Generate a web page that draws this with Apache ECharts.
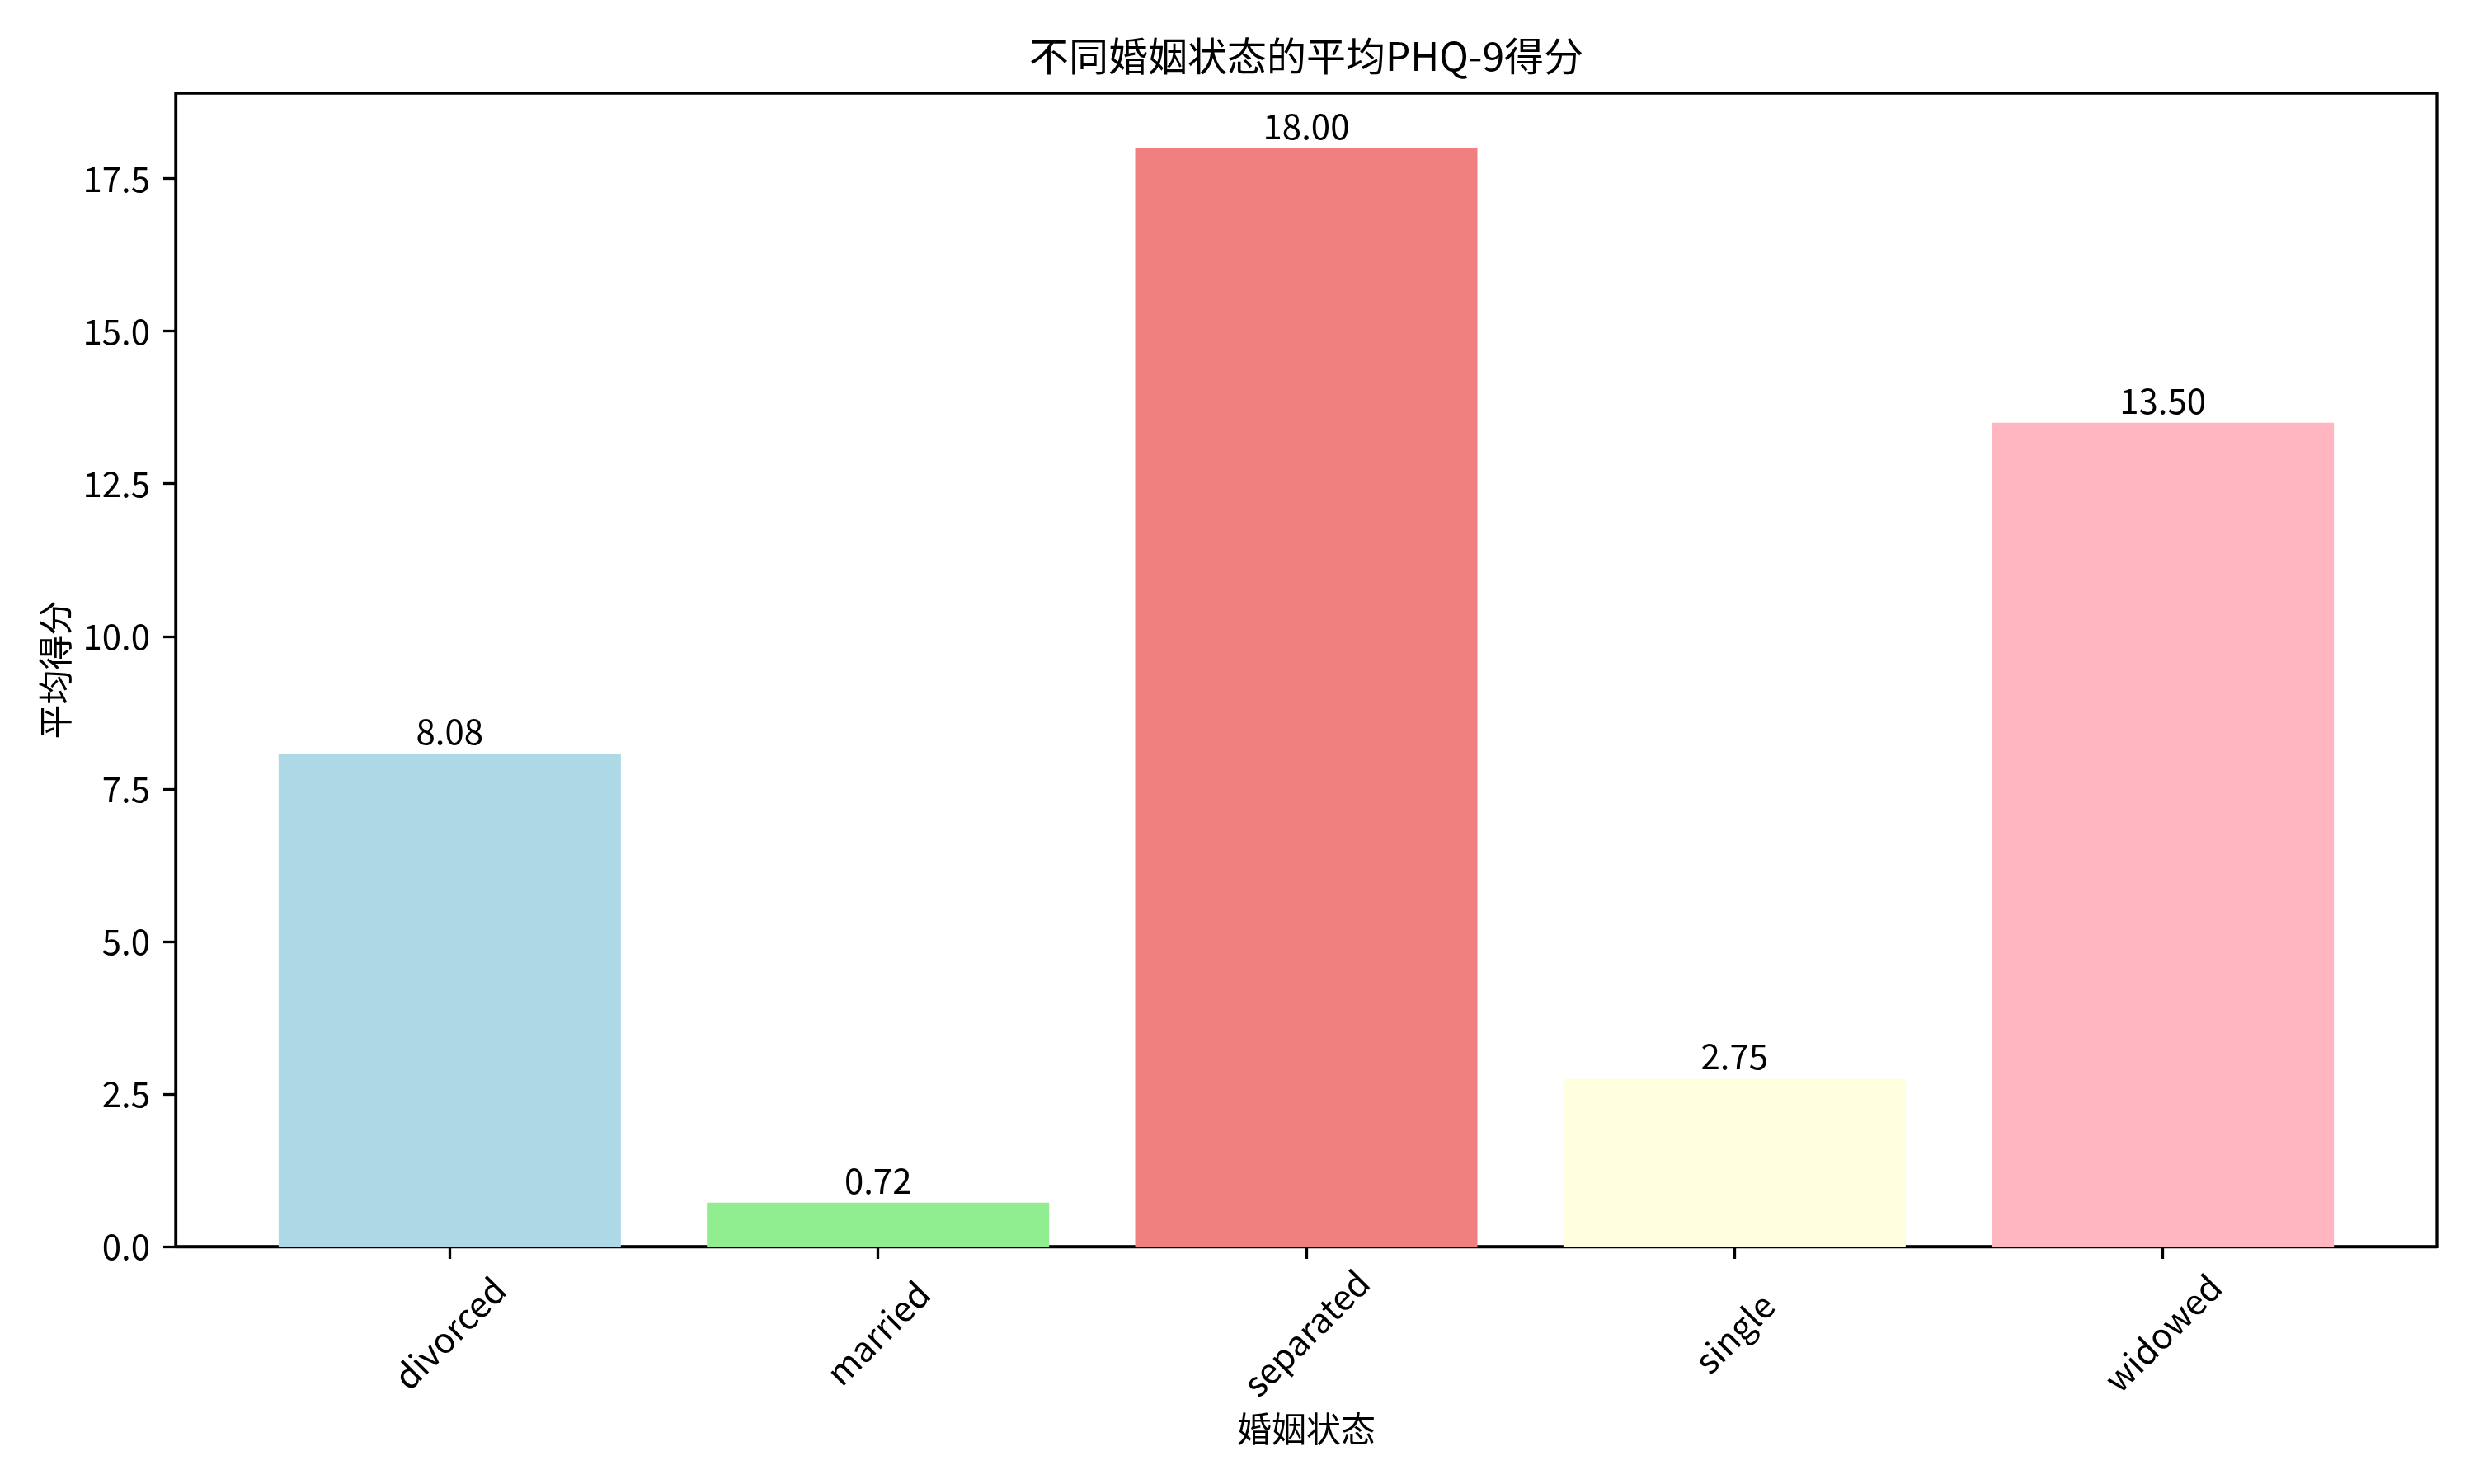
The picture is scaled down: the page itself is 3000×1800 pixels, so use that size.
<!DOCTYPE html>
<html>
<head>
<meta charset="utf-8">
<title>不同婚姻状态的平均PHQ-9得分</title>
<script src="https://cdn.jsdelivr.net/npm/echarts@6/dist/echarts.min.js"></script>
<style>
    html, body { margin: 0; padding: 0; background: #fff; }
    #ChartDIV { width: 3000px; height: 1800px; }
</style>
</head>
<body>
<div id="ChartDIV"></div>
<script>
// data
var categories = ['divorced', 'married', 'separated', 'single', 'widowed'];
var scores = [8.08, 0.72, 18.00, 2.75, 13.50];
var barColors = ['#ADD8E6', '#90EE90', '#F08080', '#FFFFE0', '#FFB6C1'];
var yTicks = [0, 2.5, 5, 7.5, 10, 12.5, 15, 17.5];

var FONT = '"Noto Sans CJK SC", "DejaVu Sans", sans-serif';

function ScoreChart() {
    var myChart = echarts.init(document.getElementById('ChartDIV'), null, { renderer: 'canvas' });

    var catIndex = [];
    for (var i = 0; i < categories.length; i++) {
        catIndex.push(i);
    }

    var option = {
        backgroundColor: '#fff',
        animation: false,
        title: {
            text: '不同婚姻状态的平均PHQ-9得分',
            left: 1584,
            top: 44,
            textAlign: 'center',
            padding: 0,
            textStyle: { fontFamily: FONT, fontSize: 48, fontWeight: 'normal', color: '#000' }
        },
        grid: {
            left: 213,
            top: 113,
            width: 2742,
            height: 1399,
            show: true,
            borderColor: '#000',
            borderWidth: 3.3,
            backgroundColor: 'transparent'
        },
        xAxis: {
            type: 'value',
            min: -0.64,
            max: 4.64,
            name: '婚姻状态',
            nameLocation: 'middle',
            nameGap: 200,
            nameTextStyle: { fontFamily: FONT, fontSize: 42, color: '#000' },
            splitLine: { show: false },
            axisLine: { show: true, onZero: false, lineStyle: { color: '#000', width: 3.3 } },
            axisTick: { show: true, length: 15, lineStyle: { color: '#000', width: 3.3 }, customValues: catIndex },
            axisLabel: {
                customValues: catIndex,
                rotate: 45,
                margin: 105,
                align: 'center',
                verticalAlign: 'middle',
                fontFamily: FONT,
                fontSize: 42,
                color: '#000',
                formatter: function (value) {
                    return categories[Math.round(value)];
                }
            }
        },
        yAxis: {
            type: 'value',
            min: 0,
            max: 18.9,
            name: '平均得分',
            nameLocation: 'middle',
            nameGap: 125,
            nameTextStyle: { fontFamily: FONT, fontSize: 42, color: '#000' },
            splitLine: { show: false },
            axisLine: { show: true, onZero: false, lineStyle: { color: '#000', width: 3.3 } },
            axisTick: { show: true, length: 15, lineStyle: { color: '#000', width: 3.3 }, customValues: yTicks },
            axisLabel: {
                customValues: yTicks,
                margin: 31,
                fontFamily: FONT,
                fontSize: 42,
                color: '#000',
                formatter: function (value) {
                    return value.toFixed(1);
                }
            }
        },
        series: [
            {
                type: 'bar',
                barWidth: 415,
                label: {
                    show: true,
                    position: 'top',
                    distance: 6,
                    fontFamily: FONT,
                    fontSize: 42,
                    color: '#000',
                    formatter: function (params) {
                        return params.value[1].toFixed(2);
                    }
                },
                data: (function () {
                    var res = [];
                    for (var i = 0; i < categories.length; i++) {
                        res.push({
                            value: [i, scores[i]],
                            itemStyle: { color: barColors[i] }
                        });
                    }
                    return res;
                })()
            }
        ]
    };

    myChart.setOption(option);
}

ScoreChart();
</script>
</body>
</html>
